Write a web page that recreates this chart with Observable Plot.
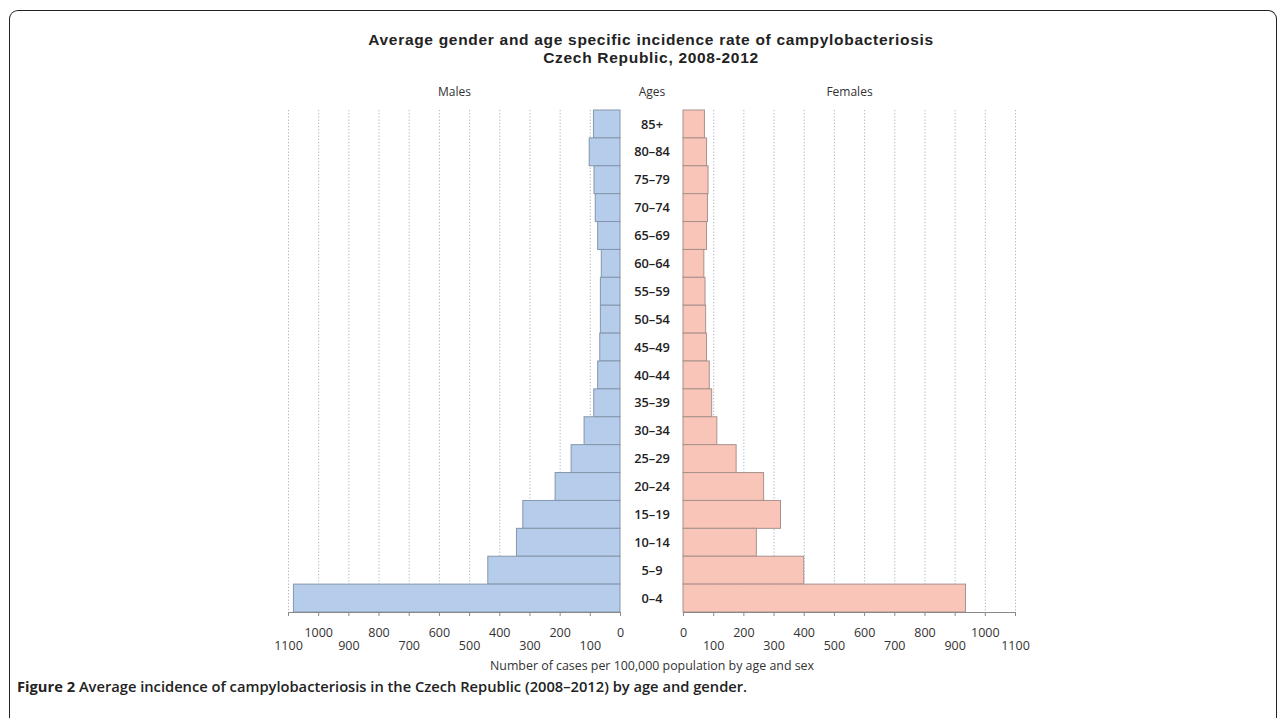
<!DOCTYPE html>
<html>
<head>
<meta charset="utf-8">
<script src="https://cdn.jsdelivr.net/npm/d3@7"></script>
<script src="https://cdn.jsdelivr.net/npm/@observablehq/plot@0.6"></script>
<style>
  html, body { margin: 0; padding: 0; background: #fff; }
  body { width: 1282px; height: 718px; overflow: hidden; position: relative; font-family: "Open Sans", sans-serif; }
  #frame { position: absolute; left: 9px; top: 10px; width: 1266px; height: 740px; border: 1.5px solid #222; border-bottom: none; border-radius: 9px; }
  .title { position: absolute; left: 0; width: 1302px; text-align: center; font-family: "Liberation Sans", Arial, sans-serif; font-weight: 700; font-size: 15.5px; letter-spacing: 0.7px; color: #222; line-height: 17px; }
  #chart { position: absolute; left: 0; top: 0; }
  #caption { position: absolute; left: 17px; top: 676px; font-size: 14.7px; font-weight: 600; color: #222; white-space: nowrap; line-height: 20px; }
  #caption b { font-weight: 700; }
</style>
</head>
<body>
<div id="frame"></div>
<div class="title" style="top:31px">Average gender and age specific incidence rate of campylobacteriosis</div>
<div class="title" style="top:49px">Czech Republic, 2008-2012</div>
<div id="chart"></div>
<div id="caption"><b>Figure 2</b> Average incidence of campylobacteriosis in the Czech Republic (2008–2012) by age and gender.</div>
<script>
const ages = ["85+","80–84","75–79","70–74","65–69","60–64","55–59","50–54","45–49","40–44","35–39","30–34","25–29","20–24","15–19","10–14","5–9","0–4"];
const males = [88,102,86,82,74,62,65,65,67,74,87,119,162,215,322,343,438,1082];
const females = [71,78,83,81,78,69,73,75,78,87,95,112,176,267,323,243,400,936];
const tickValues = [0,100,200,300,400,500,600,700,800,900,1000,1100];
const headers = ["Males","Ages","Females"];
const axisTitle = "Number of cases per 100,000 population by age and sex";

const G = 104.4;            // half of the central gap, in data units
const L = v => -(G + v);    // male side position
const R = v => G + v;       // female side position

const rows = ages.map((a, i) => ({age: a, m: males[i], f: females[i]}));

const W = 1282, H = 690, mT = 110, mB = H - 612, mL = 288, mR = W - 1015;
const bw = (H - mT - mB) / ages.length;

const even = tickValues.filter(t => t % 200 === 0);
const odd = tickValues.filter(t => t % 200 !== 0);
const grid = {stroke: "#aab0c6", strokeDasharray: "1.2,2", strokeWidth: 1};
const axisStyle = {anchor: "bottom", tickSize: 4, stroke: "#888", fontSize: 12.5, fill: "#333", label: null};

const plot = Plot.plot({
  width: W, height: H,
  marginTop: mT, marginBottom: mB, marginLeft: mL, marginRight: mR,
  style: {fontFamily: "Open Sans, sans-serif", background: "transparent"},
  x: {domain: [L(1100), R(1100)], axis: null},
  y: {domain: ages, padding: 0, round: false, axis: null},
  marks: [
    Plot.ruleX(tickValues.filter(t => t > 0), {x: L, ...grid}),
    Plot.ruleX(tickValues.filter(t => t > 0), {x: R, ...grid}),
    Plot.barX(rows, {y: "age", x1: () => L(0), x2: d => L(d.m), fill: "#b5cceb", stroke: "#8496ab", strokeWidth: 1}),
    Plot.barX(rows, {y: "age", x1: () => R(0), x2: d => R(d.f), fill: "#f9c5b8", stroke: "#a8918c", strokeWidth: 1}),
    Plot.text(rows, {y: "age", x: () => 0, text: "age", fontSize: 12.8, fill: "#222", fontWeight: 600}),
    Plot.ruleY([ages[ages.length - 1]], {y: d => d, x1: L(0), x2: L(1100), dy: bw / 2, stroke: "#888", strokeWidth: 1.2}),
    Plot.ruleY([ages[ages.length - 1]], {y: d => d, x1: R(0), x2: R(1100), dy: bw / 2, stroke: "#888", strokeWidth: 1.2}),
    Plot.axisX(even.map(L), {...axisStyle, tickPadding: 12, tickFormat: v => String(Math.round(-v - G))}),
    Plot.axisX(odd.map(L), {...axisStyle, tickPadding: 25, tickFormat: v => String(Math.round(-v - G))}),
    Plot.axisX(even.map(R), {...axisStyle, tickPadding: 12, tickFormat: v => String(Math.round(v - G))}),
    Plot.axisX(odd.map(R), {...axisStyle, tickPadding: 25, tickFormat: v => String(Math.round(v - G))}),
    Plot.text([axisTitle], {frameAnchor: "bottom", text: d => d, dy: 57, fontSize: 12.4, fill: "#333"}),
    Plot.text(headers, {x: (d, i) => [L(550), 0, R(550)][i], frameAnchor: "top", text: d => d, dy: -23, fontSize: 12, fill: "#333"})
  ]
});
document.getElementById("chart").appendChild(plot);
</script>
</body>
</html>
